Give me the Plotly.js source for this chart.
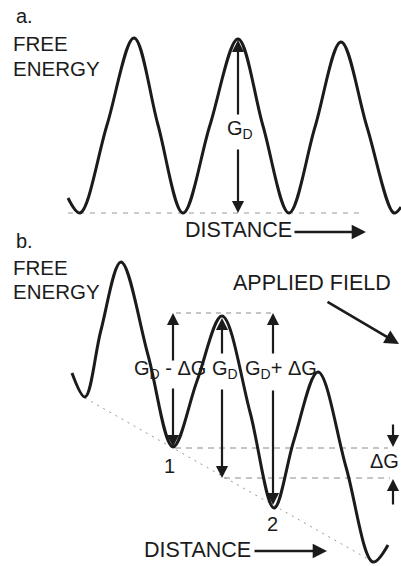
<!DOCTYPE html>
<html>
<head>
<meta charset="utf-8">
<script src="https://cdn.plot.ly/plotly-3.0.1.min.js"></script>
<style>
  html, body { margin: 0; padding: 0; background: #fff; }
  #chart { width: 401px; height: 566px; }
</style>
</head>
<body>
<div id="chart"></div>
<script>
// ---- Panel a: free-energy profile (distance, energy; diagram units, y grows downward) ----
const distA   = [68, 80, 107, 134, 158, 183, 210, 238, 263, 289, 315, 341, 367, 394, 401];
const energyA = [198, 213, 125, 38, 125, 213, 125, 39, 126, 213, 127, 42, 127, 213, 207];
// dashed baseline under panel a
const baseA_x = [68, 360];
const baseA_y = [213, 213];

// ---- Panel b: profile tilted by an applied field ----
const distB   = [72, 85, 101, 121, 148, 173, 197, 222, 250, 274, 294, 318, 346, 373, 388];
const energyB = [373, 397, 330, 262, 355, 447, 381, 316, 412, 508, 440, 372, 467, 562, 545];
// dotted tangent line along the minima
const tilt_x = [85, 375];
const tilt_y = [398, 563];
// dashed reference levels
const topLvl_x = [176, 276], topLvl_y = [313, 313];
const min1Lvl_x = [175, 388], min1Lvl_y = [448, 448];
const min2Lvl_x = [224, 390], min2Lvl_y = [478, 478];

// text labels
const labels = {
  a: 'a.', b: 'b.', free: 'FREE', energy: 'ENERGY', distance: 'DISTANCE',
  field: 'APPLIED FIELD', gd: 'G<sub>D</sub>', gdMinus: 'G<sub>D</sub> - ΔG',
  gdPlus: 'G<sub>D</sub>+ ΔG', dG: 'ΔG', min1: '1', min2: '2'
};

const ink = '#1b1b1b';
const FONT = 'Liberation Sans, Arial, Helvetica, sans-serif';

const traces = [
  {x: baseA_x, y: baseA_y, mode: 'lines', line: {color: '#9a9a9a', width: 1, dash: '5px,6px'}, hoverinfo: 'skip'},
  {x: distA, y: energyA, mode: 'lines', line: {color: ink, width: 3, shape: 'spline', smoothing: 1}, hoverinfo: 'skip'},
  {x: tilt_x, y: tilt_y, mode: 'lines', line: {color: '#999', width: 1, dash: '2px,5px'}, hoverinfo: 'skip'},
  {x: topLvl_x, y: topLvl_y, mode: 'lines', line: {color: '#8a8a8a', width: 1, dash: '5px,5px'}, hoverinfo: 'skip'},
  {x: min1Lvl_x, y: min1Lvl_y, mode: 'lines', line: {color: '#8a8a8a', width: 1, dash: '6px,5px'}, hoverinfo: 'skip'},
  {x: min2Lvl_x, y: min2Lvl_y, mode: 'lines', line: {color: '#8a8a8a', width: 1, dash: '6px,5px'}, hoverinfo: 'skip'},
  {x: distB, y: energyB, mode: 'lines', line: {color: ink, width: 3, shape: 'spline', smoothing: 1}, hoverinfo: 'skip'}
];

function txt(text, x, y, size, anchor) {
  return {text: text, x: x, y: y, xref: 'x', yref: 'y', showarrow: false,
          xanchor: anchor || 'left', yanchor: 'middle', align: 'left',
          font: {family: FONT, size: size || 21, color: ink}};
}
function arrow(x0, y0, x1, y1, w) {
  return {text: '', x: x1, y: y1, ax: x0, ay: y0, xref: 'x', yref: 'y', axref: 'x', ayref: 'y',
          showarrow: true, arrowhead: 2, arrowsize: 1.1, arrowwidth: w || 2.2, arrowcolor: ink,
          standoff: 0, startstandoff: 0};
}

// peak / trough references from the data
const pkA = 7, trA = 9;             // panel a peak used for G_D arrow
const tr1 = 5, pk2 = 7, tr2 = 9;    // panel b minima 1, 2 and middle peak

const annotations = [
  txt(labels.a, 14, 16, 20),
  txt(labels.free, 11, 43, 20.5),
  txt(labels.energy, 11, 68, 20.5),
  txt(labels.distance, 183, 230, 21.5),
  txt(labels.gd, 225, 129, 20),
  arrow(distA[pkA], 116, distA[pkA], energyA[pkA] + 1),
  arrow(distA[pkA], 148, distA[pkA], energyA[trA]),
  arrow(293, 232, 366, 232, 2.6),

  txt(labels.b, 14, 241, 20),
  txt(labels.free, 11, 267, 20.5),
  txt(labels.energy, 11, 291, 20.5),
  txt(labels.field, 231, 283, 21.5),
  arrow(326, 301, 399, 344, 2.6),

  txt(labels.gdMinus, 132, 369, 20),
  txt(labels.gd, 210, 369, 20),
  txt(labels.gdPlus, 243, 369, 20),
  arrow(distB[tr1], 362, distB[tr1], topLvl_y[0]),
  arrow(distB[tr1], 387, distB[tr1], energyB[tr1]),
  arrow(distB[pk2], 355, distB[pk2], energyB[pk2] + 2),
  arrow(distB[pk2], 388, distB[pk2], min2Lvl_y[0]),
  arrow(distB[tr2] - 1, 355, distB[tr2] - 1, topLvl_y[0]),
  arrow(distB[tr2] - 1, 389, distB[tr2] - 1, energyB[tr2] - 3),

  txt(labels.min1, 162, 466, 20),
  txt(labels.min2, 265, 524, 20),
  txt(labels.dG, 368, 461, 20),
  arrow(393, 423, 393, min1Lvl_y[0] - 1),
  arrow(393, 506, 393, min2Lvl_y[0] + 1),

  txt(labels.distance, 142, 550, 21.5),
  arrow(253, 551, 327, 551, 2.6)
];

const layout = {
  width: 401, height: 566,
  margin: {l: 0, r: 0, t: 0, b: 0, pad: 0},
  paper_bgcolor: '#fff', plot_bgcolor: '#fff',
  showlegend: false,
  xaxis: {range: [0, 401], visible: false, fixedrange: true},
  yaxis: {range: [566, 0], visible: false, fixedrange: true},
  annotations: annotations
};

Plotly.newPlot('chart', traces, layout, {staticPlot: true, displayModeBar: false});
</script>
</body>
</html>
